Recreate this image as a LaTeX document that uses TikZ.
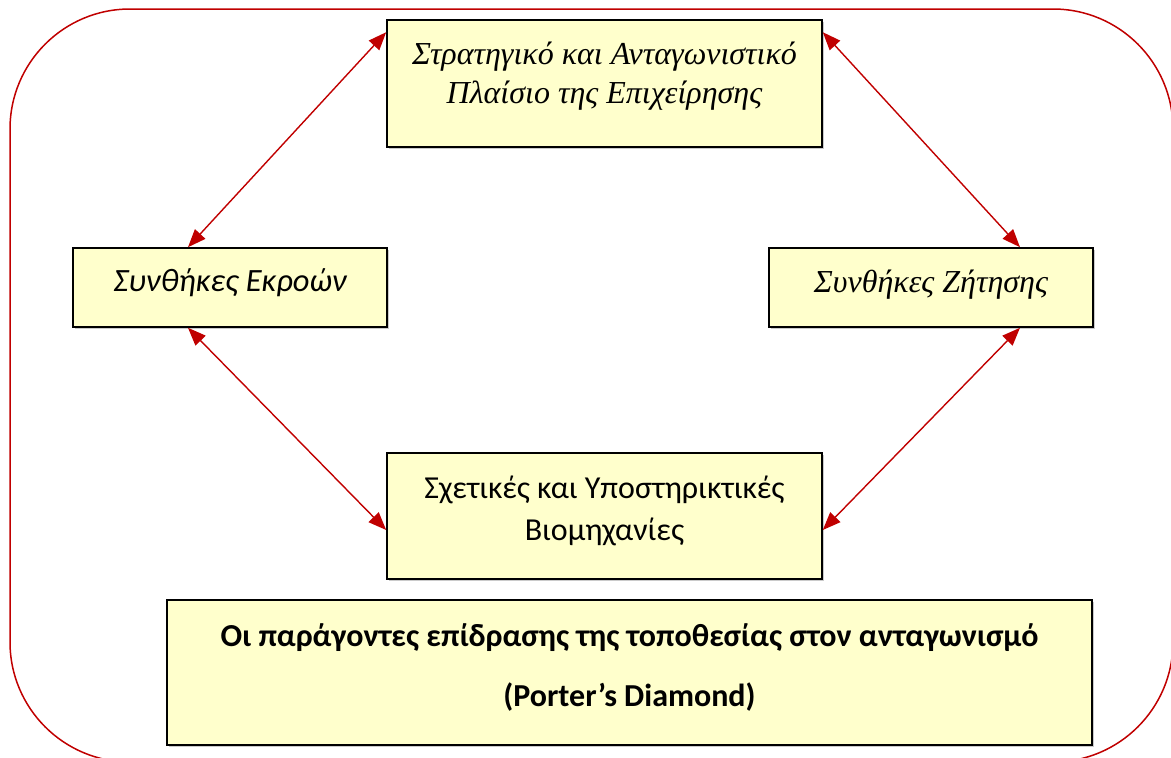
\documentclass[tikz,border=0pt]{standalone}
\usepackage{fontspec}
\setmainfont{Liberation Serif}
\newfontfamily\calib{Carlito}
\usetikzlibrary{arrows.meta,shadows}
\definecolor{darkred}{HTML}{C00000}
\definecolor{boxfill}{HTML}{FFFFCC}
\newcommand{\lowpad}[1]{\rule[-#1]{0pt}{0pt}}
\begin{document}
\begin{tikzpicture}[x=1pt,y=-1pt,
  box/.style={draw=black,line width=1.6pt,fill=boxfill,align=center,inner sep=0pt,
    drop shadow={shadow xshift=2pt,shadow yshift=-2pt,fill=gray!70,opacity=0.6}},
  link/.style={draw=darkred,line width=1.4pt,{Triangle[length=18pt,width=14pt]}-{Triangle[length=18pt,width=14pt]}}]
\useasboundingbox (0,0) rectangle (1171,758);
\begin{scope}
\clip (0,0) rectangle (1171,758);
\draw[darkred,line width=1.5pt,rounded corners=120pt] (10,9) rectangle (1173,762);
\end{scope}
\node[box,minimum width=435pt,minimum height=127pt,font=\fontsize{32}{40}\selectfont\itshape] (top) at (604.5,83.5)
  {Στρατηγικό και Ανταγωνιστικό\\[-1pt] Πλαίσιο της Επιχείρησης\lowpad{22pt}};
\node[box,minimum width=314pt,minimum height=79pt,font=\fontsize{32.5}{36}\selectfont\calib\itshape] (left) at (230,287.5)
  {Συνθήκες Εκροών\lowpad{14pt}};
\node[box,minimum width=324pt,minimum height=79pt,font=\fontsize{32}{36}\selectfont\itshape] (right) at (931,287.5)
  {Συνθήκες Ζήτησης\lowpad{12pt}};
\node[box,minimum width=435pt,minimum height=126pt,font=\fontsize{32}{42}\selectfont\calib] (mid) at (604.5,516)
  {Σχετικές και Υποστηρικτικές\\ Βιομηχανίες\lowpad{16pt}};
\node[box,minimum width=925pt,minimum height=145pt,font=\fontsize{32}{60}\selectfont\calib\bfseries] (bot) at (629.5,672.5)
  {Οι παράγοντες επίδρασης της τοποθεσίας στον ανταγωνισμό\\ (Porter’s Diamond)\lowpad{14pt}};
\draw[link] ([yshift=-13pt]top.north west) -- ([xshift=-42pt]left.north);
\draw[link] ([yshift=-13pt]top.north east) -- ([xshift=89pt]right.north);
\draw[link] ([xshift=-42pt]left.south) -- ([yshift=-14pt]mid.west);
\draw[link] ([xshift=89pt]right.south) -- ([yshift=-14pt]mid.east);
\end{tikzpicture}
\end{document}
